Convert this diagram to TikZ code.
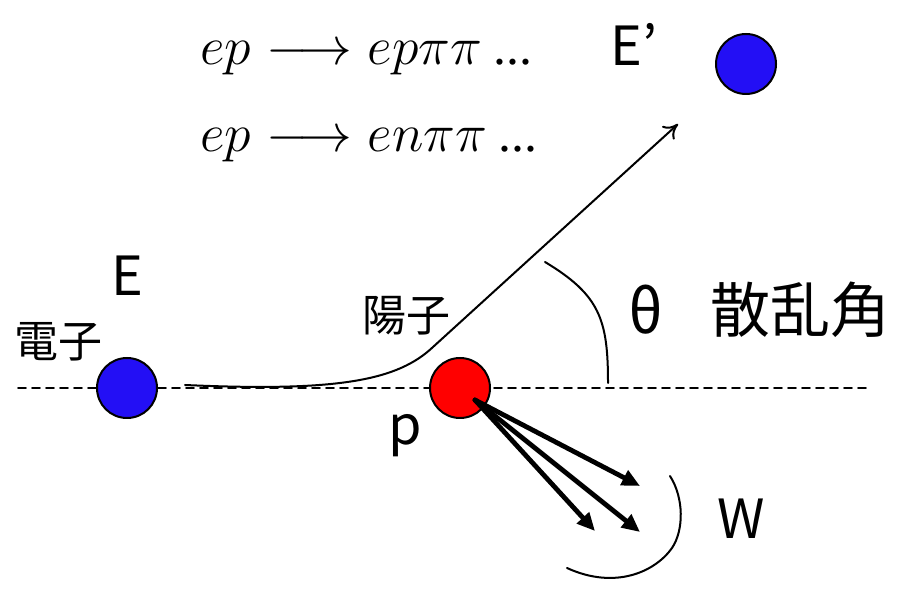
\documentclass[tikz,border=0pt]{standalone}
\usepackage{fontspec}
\setmainfont{Noto Sans CJK JP}
\newfontfamily\dotsfont{Liberation Serif}
\usetikzlibrary{arrows.meta}
\definecolor{eblue}{RGB}{35,15,245}
\tikzset{
  ball/.style={circle,draw=black,line width=1pt,minimum size=30pt,inner sep=0pt},
  lbl/.style={font=\fontsize{27}{30}\selectfont,inner sep=0pt},
  jlbl/.style={font=\fontsize{22}{24}\selectfont,inner sep=0pt},
  jbig/.style={font=\fontsize{30}{32}\selectfont,inner sep=0pt},
  reac/.style={font=\fontsize{24}{27}\selectfont,scale=1.08,anchor=base west,inner sep=0pt},
  prod/.style={line width=2.4pt,-{Triangle[length=9pt,width=8pt]}},
}
\begin{document}
\begin{tikzpicture}[x=0.5pt,y=-0.5pt,line join=round,line cap=round]
\useasboundingbox (0,0) rectangle (904,592);
\path
  (18,388) coordinate (L)
  (870,388) coordinate (R)
  (185,385) coordinate (S)
  (433,347) coordinate (K)
  (678,124) coordinate (T)
  (545,262) coordinate (A1)
  (608,383) coordinate (A2)
  (640,486) coordinate (W1)
  (595,531) coordinate (W2)
  (640,532) coordinate (W3)
  ;
% beam axis
\draw[line width=0.8pt,dash pattern=on 4pt off 3pt] (L)--(R);
% particles
\node[ball,fill=eblue] (e) at (127,388) {};
\node[ball,fill=red] (pr) at (460,388) {};
\node[ball,fill=eblue] (e2) at (746,64) {};
% scattered electron
\draw[line width=1pt,-{To[length=7pt,width=9pt]}]
  (S) .. controls (340,392) and (398,380) .. (K) -- (T);
% scattering angle
\draw[line width=1pt] (A1) .. controls (600,295) and (608,320) .. (A2);
% hadrons
\foreach \t in {W1,W2,W3}
  \draw[prod] ([shift={(15,12)}]pr.center) -- (\t);
\draw[line width=1pt] (670,476) .. controls (684,498) and (684,530) .. (672,548)
  .. controls (655,572) and (615,590) .. (567,568);
% labels
\node[lbl] (lE) at (127,276) {E};
\node[jlbl] (le) at (58,342) {電子};
\node[jlbl] (lp) at (406,316) {陽子};
\node[lbl] (lpp) at (405,436) {p};
\node[lbl] (lE2) at (634,44) {E’};
\node[jbig] (lth) at (646,310) {θ};
\node[jbig] (lang) at (800,310) {散乱角};
\node[lbl] (lW) at (741,519) {W};
\node[reac] (r1) at (200,65) {$ep\longrightarrow ep\pi\pi$ {\dotsfont...}};
\node[reac] (r2) at (200,152) {$ep\longrightarrow en\pi\pi$ {\dotsfont...}};
\end{tikzpicture}
\end{document}
